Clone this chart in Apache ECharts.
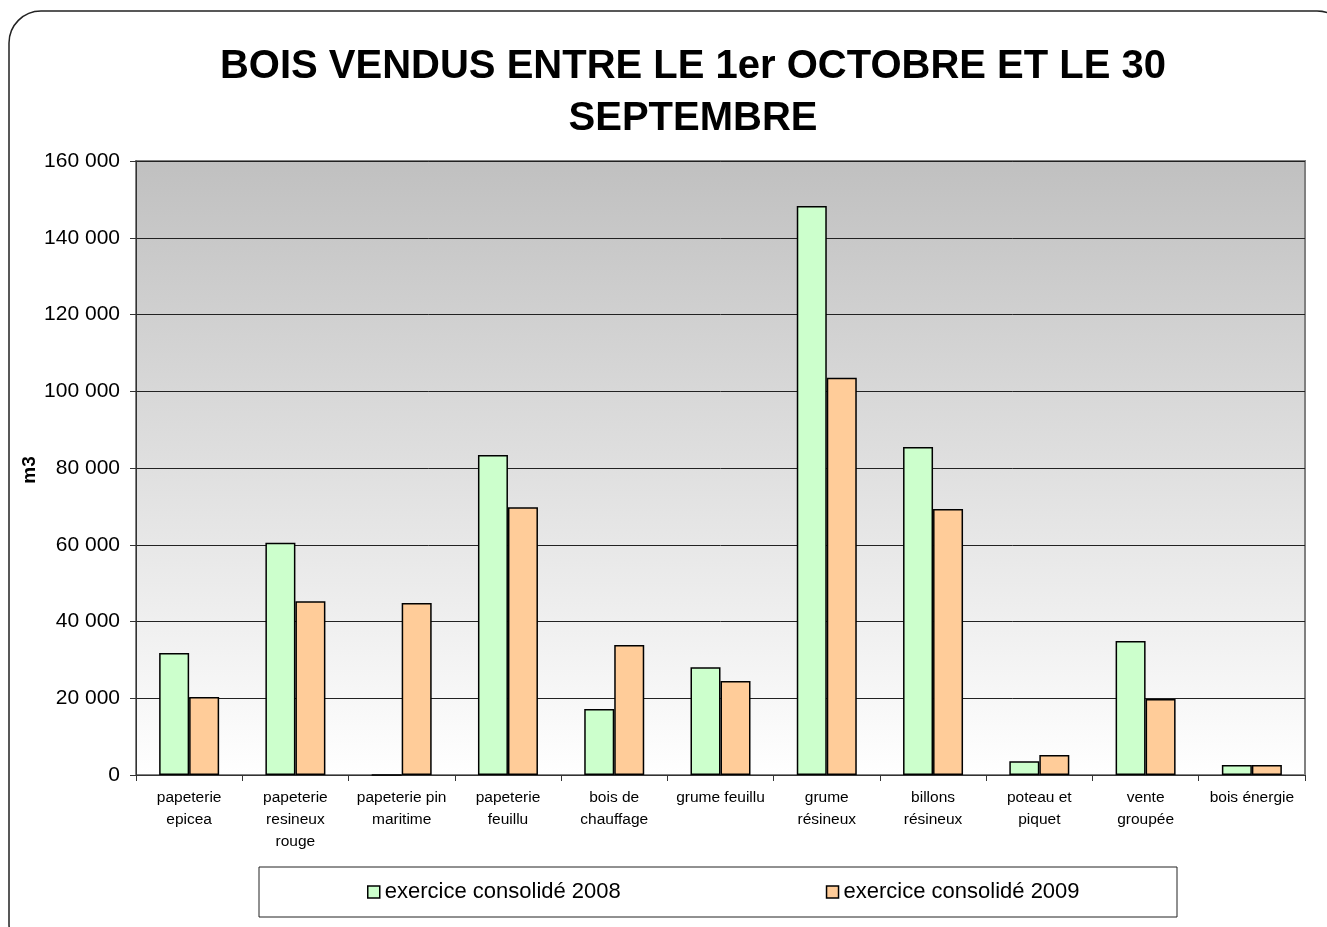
<!DOCTYPE html>
<html>
<head>
<meta charset="utf-8">
<script src="https://cdn.jsdelivr.net/npm/echarts@6/dist/echarts.min.js"></script>
<style>
html,body{margin:0;padding:0;background:#fff;}
#chart{width:1327px;height:927px;}
</style>
</head>
<body>
<div id="chart"></div>
<script>
const categories = [
  "papeterie\nepicea",
  "papeterie\nresineux\nrouge",
  "papeterie pin\nmaritime",
  "papeterie\nfeuillu",
  "bois de\nchauffage",
  "grume feuillu",
  "grume\nrésineux",
  "billons\nrésineux",
  "poteau et\npiquet",
  "vente\ngroupée",
  "bois énergie"
];
const series2008 = [31800, 60500, 0, 83400, 17200, 28100, 148300, 85500, 3600, 34900, 2600];
const series2009 = [20300, 45300, 44800, 69800, 33900, 24500, 103500, 69300, 5200, 19800, 2600];
const seriesNames = ["exercice consolidé 2008", "exercice consolidé 2009"];
const titleText = "BOIS VENDUS ENTRE LE 1er OCTOBRE ET LE 30\nSEPTEMBRE";
const yAxisName = "m3";

const chart = echarts.init(document.getElementById('chart'));
const font = '"Liberation Sans", Arial, sans-serif';
chart.setOption({
  animation: false,
  backgroundColor: '#ffffff',
  title: {
    text: titleText,
    left: 688,
    textAlign: 'center',
    top: 36,
    textStyle: {fontFamily: font, fontSize: 40, fontWeight: 'bold', color: '#000', lineHeight: 52}
  },
  graphic: [
    {type: 'rect', shape: {x: 9, y: 11, width: 1340, height: 945, r: 32},
     style: {fill: 'none', stroke: '#222', lineWidth: 1.5}, z: -1},
    {type: 'rect', shape: {x: 259, y: 867, width: 918, height: 50},
     style: {fill: '#fff', stroke: '#222', lineWidth: 1}, z: 0},
    {type: 'text', x: 30, y: 470, rotation: Math.PI / 2,
     style: {text: yAxisName, font: 'bold 19px ' + font, fill: '#000', align: 'center', verticalAlign: 'middle'}, z: 5}
  ],
  legend: {
    data: seriesNames,
    left: 362,
    top: 876,
    itemGap: 205,
    itemWidth: 12,
    itemHeight: 12,
    icon: 'rect',
    textStyle: {fontFamily: font, fontSize: 22, color: '#000'},
    itemStyle: {borderColor: '#000', borderWidth: 1.5},
    z: 5
  },
  grid: {
    left: 136, right: 22, top: 161, bottom: 152,
    show: true,
    borderColor: '#808080',
    borderWidth: 2,
    backgroundColor: new echarts.graphic.LinearGradient(0, 0, 0, 1, [
      {offset: 0, color: '#c0c0c0'},
      {offset: 1, color: '#ffffff'}
    ])
  },
  xAxis: {
    type: 'category',
    data: categories,
    axisLine: {lineStyle: {color: '#333', width: 1}},
    axisTick: {show: true, length: 6, lineStyle: {color: '#333'}},
    axisLabel: {interval: 0, fontFamily: font, fontSize: 15.5, color: '#000', lineHeight: 22, margin: 12}
  },
  yAxis: {
    type: 'value',
    min: 0, max: 160000, interval: 20000,
    axisLine: {show: true, lineStyle: {color: '#333', width: 1}},
    axisTick: {show: true, length: 6, lineStyle: {color: '#333'}},
    axisLabel: {
      fontFamily: font, fontSize: 21, color: '#000', margin: 16,
      formatter: v => String(v).replace(/\B(?=(\d{3})+(?!\d))/g, ' ')
    },
    splitLine: {show: true, lineStyle: {color: '#222', width: 1}}
  },
  series: [
    {name: seriesNames[0], type: 'bar', data: series2008, barWidth: 30, barGap: '0%',
     itemStyle: {color: '#ccffcc', borderColor: '#000', borderWidth: 1.5}},
    {name: seriesNames[1], type: 'bar', data: series2009, barWidth: 30, barGap: '0%',
     itemStyle: {color: '#ffcc99', borderColor: '#000', borderWidth: 1.5}}
  ]
});
</script>
</body>
</html>
